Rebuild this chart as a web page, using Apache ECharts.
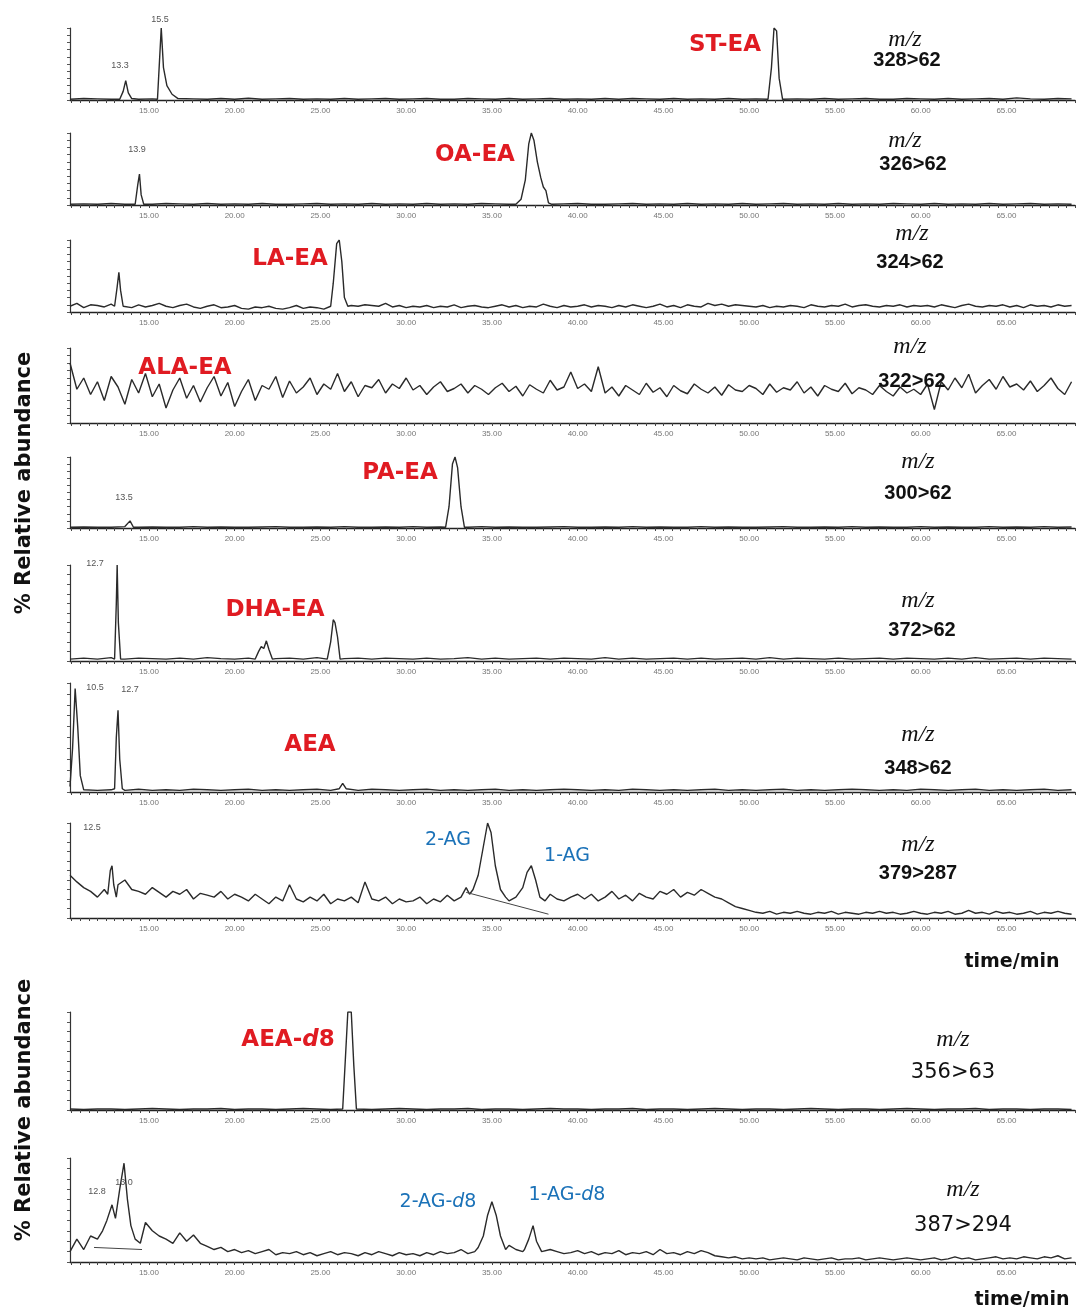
<!DOCTYPE html>
<html>
<head>
<meta charset="utf-8">
<script src="https://cdn.jsdelivr.net/npm/echarts@6.0.0/dist/echarts.min.js"></script>
<style>
  html, body { margin: 0; padding: 0; background: #fff; }
  #chart { width: 1082px; height: 1314px; }
</style>
</head>
<body>
<div id="chart"></div>
<script>
// time axis (min)
var tMin = 10.4;
var tMax = 69;
var tickLabels = [15, 20, 25, 30, 35, 40, 45, 50, 55, 60, 65];

// flat traces: baseline on a 0.8 min grid, peaks as [time, %] groups
var p1Base = [1, 2, 1.5, 1, 2, 1, 1.5, 2, 1, 1.5, 1, 2, 1, 2.5, 1, 1.5, 2, 1, 1.5, 1, 2, 1, 1.5, 2, 1,
  1.5, 2, 1, 1, 2, 1.5, 1, 2, 1, 1.5, 2, 1, 1.5, 1, 2, 1, 2, 1.5, 1, 2, 1, 1.5, 1, 2, 1,
  1.5, 2, 1, 1.5, 1, 2, 1, 1.5, 2, 1, 1, 2, 1.5, 1, 2, 1, 1.5, 2, 1, 3, 1.5, 1, 2, 1.5];
var p1Peaks = [
  [[13.3, 1], [13.5, 12], [13.65, 27], [13.8, 10], [14.0, 2]],
  [[15.5, 1], [15.62, 55], [15.72, 100], [15.85, 45], [16.05, 20], [16.35, 8], [16.7, 2]],
  [[51.1, 1], [51.3, 45], [51.45, 100], [51.6, 96], [51.75, 30], [51.95, 1]]
];
var p2Base = [1, 1.5, 1, 2, 1, 1.5, 1, 2, 1.5, 1, 2, 1, 1.5, 1, 2, 1, 1, 1.5, 2, 1, 1.5, 1, 2, 1, 1.5,
  1, 2, 1, 1.5, 1, 2, 1.5, 1, 1, 2, 1, 1.5, 2, 1, 1, 1.5, 2, 1, 1.5, 1, 2, 1, 1.5, 1, 2,
  1, 1.5, 2, 1, 1.5, 1, 2, 1, 1.5, 1, 2, 1.5, 1, 2, 1, 1.5, 1, 2, 1, 1.5, 2, 1, 1.5, 1];
var p2Peaks = [
  [[14.2, 1], [14.35, 28], [14.45, 43], [14.55, 14], [14.7, 1]],
  [[36.4, 1], [36.7, 8], [36.95, 35], [37.15, 85], [37.3, 100], [37.45, 90], [37.65, 60], [37.85, 38],
   [38.0, 25], [38.15, 20], [38.3, 3], [38.5, 1]]
];
var p3Base = [8, 12, 6, 10, 9, 7, 11, 13, 8, 6, 10, 7, 9, 12, 8, 6, 9, 11, 7, 5, 8, 10, 6, 7, 9,
  5, 4, 7, 6, 8, 5, 4, 6, 9, 5, 7, 6, 4, 8, 15, 7, 9, 8, 10, 9, 8, 12, 7, 9, 6,
  8, 7, 9, 6, 8, 7, 10, 6, 8, 9, 7, 6, 8, 10, 7, 9, 6, 8, 7, 11, 8, 6, 9, 7, 8,
  10, 7, 9, 8, 6, 9, 7, 10, 8, 6, 8, 11, 7, 9, 6, 10, 8, 7, 12, 9, 11, 8, 10, 9, 8,
  7, 9, 6, 8, 7, 9, 8, 6, 10, 8, 7, 9, 8, 11, 7, 9, 10, 8, 7, 9, 8, 10, 7, 9, 8,
  9, 7, 10, 8, 6, 9, 11, 8, 7, 9, 8, 10, 7, 9, 6, 10, 8, 9, 7, 10, 8, 9, 7];
var p3Peaks = [
  [[13.0, 8], [13.15, 35], [13.25, 55], [13.35, 30], [13.5, 8]],
  [[25.6, 8], [25.75, 40], [25.95, 95], [26.1, 100], [26.25, 70], [26.4, 20], [26.6, 8]]
];
var p4Base = [80, 45, 60, 38, 55, 30, 62, 48, 25, 58, 40, 66, 35, 52, 20, 44, 60, 33, 50, 28, 47, 62, 36, 54, 22,
  42, 58, 30, 50, 45, 62, 34, 56, 40, 48, 60, 38, 52, 45, 66, 42, 55, 35, 50, 47, 58, 40, 52, 46, 60,
  44, 50, 38, 48, 55, 42, 46, 52, 40, 50, 45, 38, 47, 53, 42, 49, 36, 51, 45, 40, 57, 44, 48, 68, 46,
  52, 42, 75, 40, 48, 36, 50, 44, 38, 53, 41, 47, 35, 50, 43, 39, 52, 45, 40, 48, 37, 51, 44, 42, 50,
  46, 38, 52, 41, 47, 44, 55, 40, 48, 36, 50, 45, 42, 53, 39, 47, 44, 38, 50, 42, 36, 48, 40, 45, 38,
  52, 18, 55, 44, 60, 47, 65, 40, 50, 58, 45, 62, 48, 52, 44, 56, 42, 50, 60, 46, 38, 55, 48];
var p5Base = [1, 1.5, 1, 1, 2, 1, 1.5, 1, 1, 2, 1, 1.5, 1, 1, 1.5, 2, 1, 1, 1.5, 1, 2, 1, 1, 1.5, 1,
  2, 1, 1.5, 1, 1, 2, 1, 1.5, 1, 1, 1.5, 2, 1, 1, 1.5, 1, 2, 1, 1.5, 1, 1, 2, 1, 1.5, 1,
  1, 1.5, 2, 1, 1, 1.5, 1, 2, 1, 1.5, 1, 1, 2, 1, 1.5, 1, 1, 2, 1, 1.5, 1, 2, 1, 1.5];
var p5Peaks = [
  [[13.7, 1], [13.9, 10], [14.1, 1]],
  [[32.3, 1], [32.5, 30], [32.7, 90], [32.85, 100], [33.0, 85], [33.2, 30], [33.4, 1]]
];
var p6Base = [2, 3, 2, 3.5, 2, 3, 2.5, 2, 3, 2, 3.5, 2.5, 2, 3, 2, 2.5, 3, 2, 3.5, 2, 2.5, 3, 2, 3, 2.5,
  2, 3, 2, 2.5, 3.5, 2, 3, 2, 2.5, 3, 2, 3, 2.5, 2, 3.5, 2, 3, 2, 2.5, 3, 2, 3, 2, 2.5, 3,
  2, 3.5, 2, 3, 2.5, 2, 3, 2, 2.5, 3, 2, 3, 2.5, 2, 3, 2, 3.5, 2, 2.5, 3, 2, 3, 2.5, 2];
var p6Peaks = [
  [[13.0, 2], [13.1, 60], [13.15, 100], [13.22, 40], [13.35, 2]],
  [[21.2, 2], [21.4, 10], [21.55, 15], [21.7, 13], [21.85, 21], [22.0, 12], [22.2, 2]],
  [[25.4, 2], [25.6, 20], [25.75, 43], [25.85, 40], [26.0, 25], [26.15, 2]]
];
var p7Base = [3, 2, 1.5, 2, 1.5, 2.5, 1.5, 2, 1.5, 2.5, 2, 1.5, 2, 2.5, 1.5, 2, 1.5, 2, 2.5, 1.5, 2, 1.5, 2.5, 2, 1.5,
  2, 2.5, 1.5, 2, 1.5, 2, 2.5, 1.5, 2, 1.5, 2, 2.5, 2, 1.5, 2, 1.5, 2.5, 2, 1.5, 2, 1.5, 2, 2.5, 1.5, 2,
  1.5, 2, 2.5, 1.5, 2, 1.5, 2, 2.5, 2, 1.5, 2, 1.5, 2.5, 2, 1.5, 2, 2.5, 1.5, 2, 1.5, 2, 2.5, 1.5, 2];
var p7Peaks = [
  [[10.4, 5], [10.55, 40], [10.7, 95], [10.85, 60], [11.0, 15], [11.2, 3]],
  [[13.0, 3], [13.1, 50], [13.2, 75], [13.3, 30], [13.45, 3]],
  [[26.1, 3], [26.3, 8], [26.5, 3]]
];
var p8Base = [45, 38, 32, 28, 22, 30, 26, 35, 40, 30, 28, 25, 32, 27, 22, 28, 25, 30, 20, 26, 24, 22, 28, 20, 25,
  22, 18, 25, 20, 15, 22, 18, 35, 20, 17, 22, 18, 25, 15, 20, 18, 22, 16, 38, 20, 18, 22, 15, 20, 17,
  18, 22, 15, 20, 17, 24, 18, 22, 26, 30, 28, 25, 22, 20, 18, 22, 25, 18, 20, 22, 25, 20, 18, 22, 25,
  20, 25, 18, 22, 28, 20, 24, 18, 26, 22, 20, 28, 25, 30, 22, 27, 24, 30, 26, 22, 20, 16, 12, 10, 8,
  6, 5, 7, 4, 6, 5, 7, 5, 4, 6, 5, 7, 4, 6, 5, 4, 6, 5, 7, 5, 6, 4, 5, 7, 5,
  4, 6, 5, 7, 4, 5, 8, 5, 6, 4, 7, 5, 6, 4, 5, 7, 4, 6, 5, 7, 5, 4, 6];
var p8Peaks = [
  [[12.6, 25], [12.75, 50], [12.85, 55], [12.95, 35], [13.1, 22]],
  [[33.2, 22], [33.5, 32], [33.7, 25], [33.9, 30], [34.2, 45], [34.5, 75], [34.75, 100], [34.95, 90],
   [35.2, 55], [35.5, 30], [35.8, 22]],
  [[36.5, 20], [36.8, 32], [37.05, 48], [37.3, 55], [37.55, 40], [37.8, 22], [38.1, 18]]
];
var p8Fit = [[33.5, 27], [38.3, 4]];
var p9Base = [1, 0.5, 1, 1, 0.5, 1, 1.5, 1, 0.5, 1, 1, 1.5, 0.5, 1, 1, 0.5, 1, 1.5, 1, 0.5, 1, 1, 0.5, 1, 1.5,
  1, 0.5, 1, 1, 1.5, 0.5, 1, 1, 0.5, 1, 1.5, 1, 1, 0.5, 1, 1, 1.5, 0.5, 1, 1, 0.5, 1, 1.5, 1, 0.5,
  1, 1, 0.5, 1, 1.5, 1, 0.5, 1, 1, 0.5, 1, 1.5, 1, 0.5, 1, 1, 1.5, 0.5, 1, 1, 0.5, 1, 1, 0.5];
var p9Peaks = [
  [[26.3, 1], [26.45, 50], [26.6, 100], [26.8, 100], [26.95, 45], [27.1, 1]]
];
var p10Base = [10, 22, 12, 25, 18, 28, 20, 30, 35, 40, 45, 38, 30, 25, 22, 18, 28, 20, 26, 18, 15, 12, 14, 10, 12,
  9, 11, 8, 10, 12, 7, 9, 8, 10, 7, 9, 6, 8, 10, 7, 9, 8, 6, 9, 7, 10, 8, 6, 9, 7,
  8, 6, 9, 7, 10, 8, 9, 12, 8, 10, 9, 12, 14, 15, 16, 12, 10, 9, 8, 10, 12, 10, 8, 9, 11,
  8, 10, 7, 9, 8, 11, 7, 9, 8, 10, 7, 12, 8, 9, 7, 10, 8, 11, 9, 6, 5, 4, 5, 3, 4,
  3, 4, 2, 3, 4, 3, 2, 4, 3, 2, 3, 4, 2, 3, 3, 4, 2, 3, 4, 3, 2, 3, 4, 3, 2,
  3, 4, 2, 3, 5, 3, 4, 2, 3, 4, 5, 3, 4, 3, 5, 4, 3, 5, 4, 6, 3, 4, 5];
var p10Peaks = [
  [[12.0, 22], [12.3, 30], [12.55, 40], [12.85, 55], [13.05, 42], [13.3, 70], [13.55, 95], [13.75, 60],
   [13.95, 35], [14.2, 22], [14.5, 18]],
  [[34.2, 14], [34.5, 25], [34.75, 45], [35.0, 58], [35.25, 45], [35.5, 25], [35.8, 12]],
  [[36.9, 12], [37.15, 22], [37.4, 35], [37.6, 20], [37.9, 10]]
];
var p10Fit = [[11.8, 14], [14.6, 12]];

function build(step, base, peaks) {
  var pts = [];
  base.forEach(function (v, i) {
    var t = tMin + i * step;
    var inPeak = peaks.some(function (g) {
      return t >= g[0][0] && t <= g[g.length - 1][0];
    });
    if (!inPeak && t <= tMax) pts.push([+t.toFixed(2), v]);
  });
  peaks.forEach(function (g) { pts = pts.concat(g); });
  pts.sort(function (a, b) { return a[0] - b[0]; });
  return pts;
}

var panels = [
  { top: 28, height: 72, data: build(0.8, p1Base, p1Peaks) },
  { top: 133, height: 72, data: build(0.8, p2Base, p2Peaks) },
  { top: 240, height: 72, data: build(0.4, p3Base, p3Peaks) },
  { top: 348, height: 75, data: build(0.4, p4Base, []) },
  { top: 457, height: 71, data: build(0.8, p5Base, p5Peaks) },
  { top: 565, height: 96, data: build(0.8, p6Base, p6Peaks) },
  { top: 683, height: 109, data: build(0.8, p7Base, p7Peaks) },
  { top: 823, height: 95, data: build(0.4, p8Base, p8Peaks), fit: p8Fit },
  { top: 1012, height: 98, data: build(0.8, p9Base, p9Peaks) },
  { top: 1158, height: 104, data: build(0.4, p10Base, p10Peaks), fit: p10Fit }
];

var minorTicks = [];
for (var m = 10.5; m <= 69; m += 0.5) minorTicks.push(m);

var grids = [], xAxes = [], yAxes = [], series = [];
panels.forEach(function (p, i) {
  grids.push({ left: 70, right: 7, top: p.top, height: p.height });
  xAxes.push({
    gridIndex: i, type: "value", min: tMin, max: tMax,
    axisLine: { lineStyle: { color: "#222", width: 1.4 } },
    axisTick: { customValues: minorTicks, length: 3, lineStyle: { color: "#444" } },
    axisLabel: {
      customValues: tickLabels, fontSize: 8, color: "#777", margin: 7,
      formatter: function (v) { return v.toFixed(2); }
    },
    splitLine: { show: false }
  });
  yAxes.push({
    gridIndex: i, type: "value", min: 0, max: 100, interval: 10,
    axisLine: { show: true, lineStyle: { color: "#333", width: 1.2 } },
    axisTick: { show: true, length: 3, lineStyle: { color: "#555" } },
    axisLabel: { show: false },
    splitLine: { show: false }
  });
  series.push({
    type: "line", xAxisIndex: i, yAxisIndex: i, data: p.data,
    showSymbol: false, lineStyle: { color: "#2a2a2a", width: 1.4 }
  });
  if (p.fit) {
    series.push({
      type: "line", xAxisIndex: i, yAxisIndex: i, data: p.fit,
      showSymbol: false, lineStyle: { color: "#444", width: 1 }
    });
  }
});

var red = "#e01b22", blue = "#1b72b8";
function txt(x, y, s, st) {
  return {
    type: "text", x: x, y: y, z: 10,
    style: Object.assign({ text: s, align: "center", verticalAlign: "middle", fill: "#111" }, st)
  };
}
function richD(x, y, a, color, size, weight) {
  return {
    type: "text", x: x, y: y, z: 10,
    style: {
      text: "{a|" + a + "}{i|d}{a|8}", align: "center", verticalAlign: "middle",
      rich: {
        a: { fontFamily: "DejaVu Sans", fontWeight: weight, fontSize: size, fill: color },
        i: { fontFamily: "DejaVu Sans", fontWeight: weight, fontStyle: "italic", fontSize: size, fill: color }
      }
    }
  };
}
var redF = { fill: red, fontFamily: "DejaVu Sans", fontWeight: "bold", fontSize: 23 };
var blueF = { fill: blue, fontFamily: "DejaVu Sans", fontSize: 19 };
var mzF = { fontFamily: "Liberation Serif", fontStyle: "italic", fontSize: 24 };
var numF = { fontFamily: "Liberation Sans", fontWeight: "bold", fontSize: 20 };
var numF2 = { fontFamily: "DejaVu Sans", fontSize: 21 };
var smallF = { fontFamily: "Liberation Sans", fontSize: 9, fill: "#555" };
var boldF = { fontFamily: "DejaVu Sans", fontWeight: "bold", fontSize: 19 };
var yTitle = { fontFamily: "DejaVu Sans", fontWeight: "bold", fontSize: 21 };

var graphic = [
  txt(160, 20, "15.5", smallF), txt(120, 66, "13.3", smallF),
  txt(725, 45, "ST-EA", redF), txt(905, 40, "m/z", mzF), txt(907, 60, "328>62", numF),
  txt(137, 150, "13.9", smallF), txt(475, 155, "OA-EA", redF),
  txt(905, 141, "m/z", mzF), txt(913, 164, "326>62", numF),
  txt(290, 259, "LA-EA", redF), txt(912, 234, "m/z", mzF), txt(910, 262, "324>62", numF),
  txt(185, 368, "ALA-EA", redF), txt(910, 347, "m/z", mzF), txt(912, 381, "322>62", numF),
  txt(124, 498, "13.5", smallF), txt(400, 473, "PA-EA", redF),
  txt(918, 462, "m/z", mzF), txt(918, 493, "300>62", numF),
  txt(95, 564, "12.7", smallF), txt(275, 610, "DHA-EA", redF),
  txt(918, 601, "m/z", mzF), txt(922, 630, "372>62", numF),
  txt(95, 688, "10.5", smallF), txt(130, 690, "12.7", smallF), txt(310, 745, "AEA", redF),
  txt(918, 735, "m/z", mzF), txt(918, 768, "348>62", numF),
  txt(92, 828, "12.5", smallF), txt(448, 840, "2-AG", blueF), txt(567, 856, "1-AG", blueF),
  txt(918, 845, "m/z", mzF), txt(918, 873, "379>287", numF),
  txt(1012, 962, "time/min", boldF),
  richD(288, 1040, "AEA-", red, 23, "bold"),
  txt(953, 1040, "m/z", mzF), txt(953, 1073, "356>63", numF2),
  txt(124, 1183, "13.0", smallF), txt(97, 1192, "12.8", smallF),
  richD(438, 1202, "2-AG-", blue, 19, "normal"),
  richD(567, 1195, "1-AG-", blue, 19, "normal"),
  txt(963, 1190, "m/z", mzF), txt(963, 1226, "387>294", numF2),
  txt(1022, 1300, "time/min", boldF),
  {
    type: "text", x: 25, y: 483, rotation: Math.PI / 2, z: 10,
    style: Object.assign({ text: "% Relative abundance", align: "center", verticalAlign: "middle", fill: "#111" }, yTitle)
  },
  {
    type: "text", x: 25, y: 1110, rotation: Math.PI / 2, z: 10,
    style: Object.assign({ text: "% Relative abundance", align: "center", verticalAlign: "middle", fill: "#111" }, yTitle)
  }
];

var myChart = echarts.init(document.getElementById("chart"), null, { renderer: "canvas" });
myChart.setOption({
  animation: false,
  grid: grids,
  xAxis: xAxes,
  yAxis: yAxes,
  series: series,
  graphic: graphic
});
</script>
</body>
</html>
